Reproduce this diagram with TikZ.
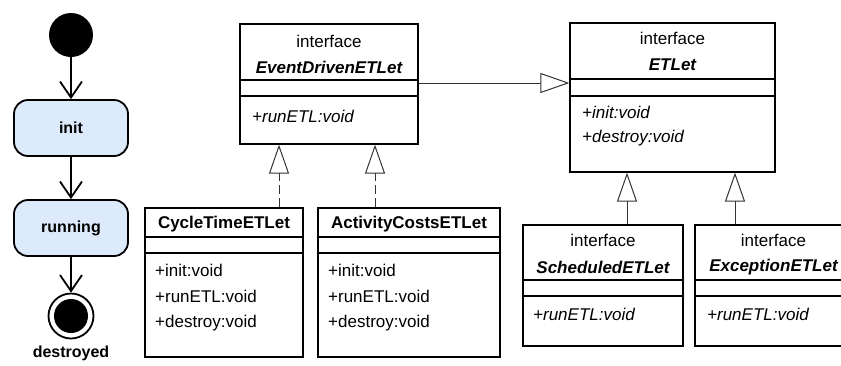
\documentclass[tikz,border=0pt]{standalone}
\usepackage{fontspec}
\setmainfont{Liberation Sans}
\usetikzlibrary{arrows.meta}
\definecolor{statefill}{RGB}{221,234,252}

\begin{document}
\begin{tikzpicture}[x=1pt,y=-1pt,
  state/.style={draw,line width=1.8pt,fill=statefill,rounded corners=14pt,minimum width=114pt,minimum height=56pt,font=\fontsize{16}{18}\selectfont\bfseries},
  startstate/.style={circle,fill,minimum size=44pt,inner sep=0pt},
  endstate/.style={circle,draw,line width=1.8pt,minimum size=45pt,inner sep=0pt,path picture={\fill (path picture bounding box.center) circle (17pt);}},
  flow/.style={line width=1.8pt,-{Straight Barb[length=16pt,width=22pt]}},
  box/.style={draw,line width=1.2pt,inner sep=0pt},
  sep/.style={line width=1.2pt},
  txt/.style={inner sep=0pt,font=\fontsize{17}{19}\selectfont},
  ifname/.style={txt,font=\fontsize{17}{19}\selectfont\bfseries\itshape},
  clname/.style={txt,font=\fontsize{17}{19}\selectfont\bfseries},
  op/.style={txt,anchor=west},
  abop/.style={op,font=\fontsize{17}{19}\selectfont\itshape},
  gen/.style={line width=1pt,black!80,-{Triangle[open,length=29pt,width=20pt]}},
  real/.style={gen,dash pattern=on 9pt off 4pt}]
\useasboundingbox (0,0) rectangle (841,365);
\clip (0,0) rectangle (841,365);

% life cycle of an ETLet
\node[startstate] (start) at (71,35) {};
\node[state] (init) at (71,128) {init};
\node[state] (run) at (71,228) {running};
\node[endstate] (stop) at (71,316) {};
\node[font=\fontsize{16}{18}\selectfont\bfseries,inner sep=0pt] (stop-lbl) at (71,353) {destroyed};

\draw[flow] (start) -- (init);
\draw[flow] (init) -- (run);
\draw[flow] (run) -- (stop);

% EventDrivenETLet
\node[box,minimum width=178pt,minimum height=120pt] (edl) at (329,84) {};
\draw[sep] (edl.west |- 0,80) -- (edl.east |- 0,80);
\draw[sep] (edl.west |- 0,96) -- (edl.east |- 0,96);
\node[txt] (edl-st) at (329,41) {interface};
\node[ifname] (edl-nm) at (329,67) {EventDrivenETLet};
\node[abop] (edl-op1) at (252,116) {+runETL:void};

% ETLet
\node[box,minimum width=205pt,minimum height=149pt] (etl) at (672.5,97.5) {};
\draw[sep] (etl.west |- 0,79) -- (etl.east |- 0,79);
\draw[sep] (etl.west |- 0,96) -- (etl.east |- 0,96);
\node[txt] (etl-st) at (672.5,38) {interface};
\node[ifname] (etl-nm) at (672.5,65) {ETLet};
\node[abop] (etl-op1) at (582,112) {+init:void};
\node[abop] (etl-op2) at (582,138) {+destroy:void};

% CycleTimeETLet
\node[box,minimum width=158pt,minimum height=149pt] (cyc) at (224,282.5) {};
\draw[sep] (cyc.west |- 0,237) -- (cyc.east |- 0,237);
\draw[sep] (cyc.west |- 0,253) -- (cyc.east |- 0,253);
\node[clname] (cyc-nm) at (224,224) {CycleTimeETLet};
\node[op] (cyc-op1) at (155,270) {+init:void};
\node[op] (cyc-op2) at (155,296) {+runETL:void};
\node[op] (cyc-op3) at (155,323) {+destroy:void};

% ActivityCostsETLet
\node[box,minimum width=182pt,minimum height=149pt] (act) at (409,282.5) {};
\draw[sep] (act.west |- 0,237) -- (act.east |- 0,237);
\draw[sep] (act.west |- 0,253) -- (act.east |- 0,253);
\node[clname] (act-nm) at (409,224) {ActivityCostsETLet};
\node[op] (act-op1) at (328,270) {+init:void};
\node[op] (act-op2) at (328,296) {+runETL:void};
\node[op] (act-op3) at (328,323) {+destroy:void};

% ScheduledETLet
\node[box,minimum width=160pt,minimum height=121pt] (sch) at (603,285.5) {};
\draw[sep] (sch.west |- 0,280) -- (sch.east |- 0,280);
\draw[sep] (sch.west |- 0,296) -- (sch.east |- 0,296);
\node[txt] (sch-st) at (603,240) {interface};
\node[ifname] (sch-nm) at (603,267) {ScheduledETLet};
\node[abop] (sch-op1) at (533,314) {+runETL:void};

% ExceptionETLet
\node[box,minimum width=157pt,minimum height=121pt] (exc) at (773.5,285.5) {};
\draw[sep] (exc.west |- 0,280) -- (exc.east |- 0,280);
\draw[sep] (exc.west |- 0,296) -- (exc.east |- 0,296);
\node[txt] (exc-st) at (773.5,240) {interface};
\node[ifname] (exc-nm) at (773.5,267) {ExceptionETLet};
\node[abop] (exc-op1) at (707,314) {+runETL:void};

% generalization and realization
\draw[gen] (edl.east |- 0,83) -- (etl.west |- 0,83);
\draw[gen] (627,0 |- sch.north) -- (627,0 |- etl.south);
\draw[gen] (735,0 |- exc.north) -- (735,0 |- etl.south);
\draw[real] (279,0 |- cyc.north) -- (279,0 |- edl.south);
\draw[real] (375,0 |- act.north) -- (375,0 |- edl.south);
\end{tikzpicture}
\end{document}
